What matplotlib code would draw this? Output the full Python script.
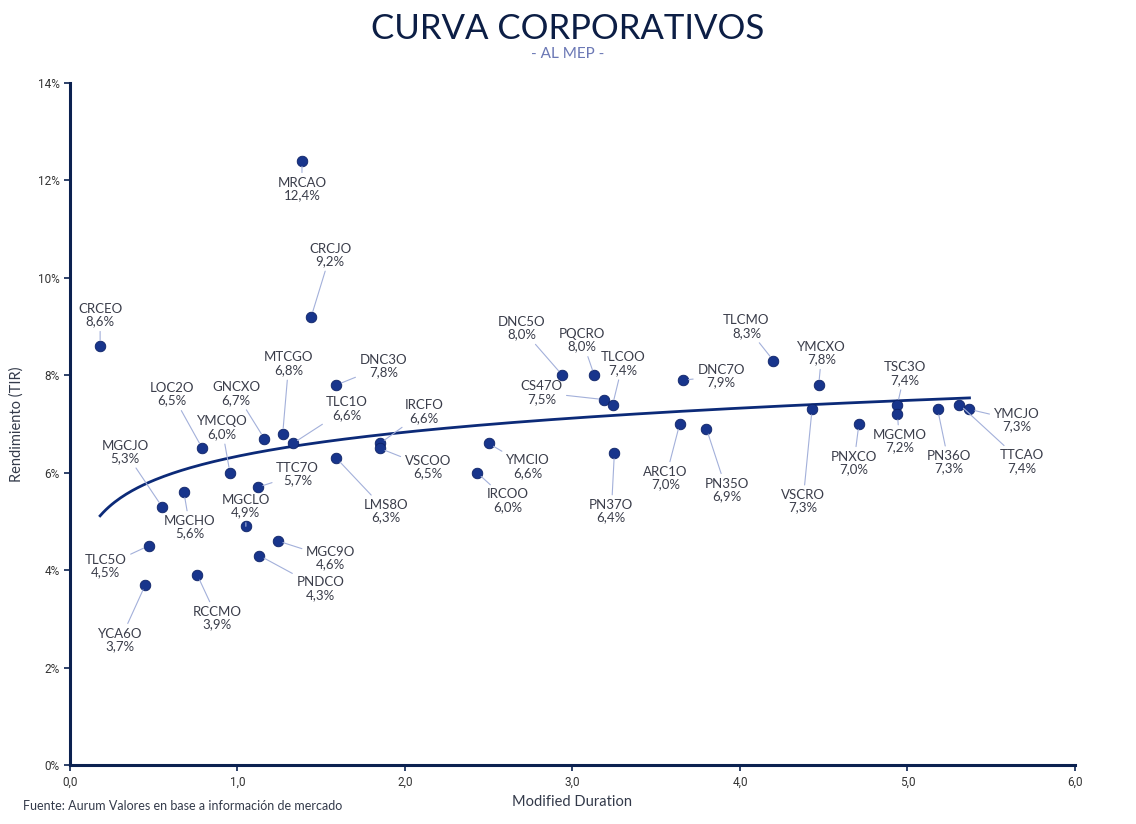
import numpy as np
import matplotlib
matplotlib.use("Agg")
import matplotlib.pyplot as plt
from matplotlib.ticker import FuncFormatter, MultipleLocator

# ---------------- data ----------------
tickers = ["CRCEO", "MRCAO", "CRCJO", "MTCGO", "GNCXO", "TLC1O", "DNC3O", "LOC2O",
           "YMCQO", "MGCJO", "MGCHO", "TTC7O", "MGCLO", "MGC9O", "PNDCO", "TLC5O",
           "YCA6O", "RCCMO", "LMS8O", "IRCFO", "VSCOO", "YMCIO", "IRCOO", "DNC5O",
           "PQCRO", "CS47O", "TLCOO", "PN37O", "DNC7O", "ARC1O", "PN35O", "TLCMO",
           "YMCXO", "VSCRO", "PNXCO", "TSC3O", "MGCMO", "PN36O", "YMCJO", "TTCAO"]
duration = [0.18, 1.385, 1.44, 1.27, 1.16, 1.33, 1.59, 0.79,
            0.955, 0.55, 0.68, 1.12, 1.05, 1.24, 1.13, 0.47,
            0.45, 0.76, 1.59, 1.85, 1.85, 2.50, 2.43, 2.94,
            3.13, 3.19, 3.24, 3.25, 3.66, 3.64, 3.80, 4.20,
            4.47, 4.43, 4.71, 4.94, 4.94, 5.18, 5.37, 5.31]
tir = [8.6, 12.4, 9.2, 6.8, 6.7, 6.6, 7.8, 6.5,
       6.0, 5.3, 5.6, 5.7, 4.9, 4.6, 4.3, 4.5,
       3.7, 3.9, 6.3, 6.6, 6.5, 6.6, 6.0, 8.0,
       8.0, 7.5, 7.4, 6.4, 7.9, 7.0, 6.9, 8.3,
       7.8, 7.3, 7.0, 7.4, 7.2, 7.3, 7.3, 7.4]
# label offsets (pixels, x right / y down)
label_dx = [0, 0, 19, 6, -28, 54, 47, -30,
            -8, -37, 6, 40, 0, 53, 61, -43,
            -25, 20, 50, 44, 48, 39, 31, -41,
            -12, -63, 10, -3, 38, -14, 20, -27,
            3, -9, -5, 7, 2, 11, 47, 62]
label_dy = [-31, 28, -62, -70, -45, -35, -19, -54,
            -45, -55, 35, -13, -20, 17, 33, 20,
            55, 43, 53, -32, 19, 23, 28, -47,
            -35, -7, -41, 58, -4, 54, 61, -34,
            -32, 92, 39, -31, 27, 53, 11, 57]

# --------------- style ----------------
NAVY = "#0b2150"
DOT = "#18358c"
LEADER = "#a3b0da"
TXT = "#3a3d4a"

fig = plt.figure(figsize=(11.36, 8.24), dpi=100)
ax = fig.add_axes([0.0616, 0.0716, 0.8847, 0.8277])

x = np.array(duration)
y = np.array(tir)

# logarithmic trend line
b, a = np.polyfit(np.log(x), y, 1)
xs = np.linspace(x.min(), x.max(), 300)
ax.plot(xs, a + b * np.log(xs), color="#0c2a78", lw=2.0, zorder=2)

ax.scatter(x, y, s=58, color=DOT, edgecolor="#0d2266", linewidth=0.6, zorder=4)

for t, xi, yi, dx, dy in zip(tickers, duration, tir, label_dx, label_dy):
    lab = f"{t}\n{yi:.1f}%".replace(".", ",")
    ax.annotate(lab, xy=(xi, yi), xytext=(dx * 0.72, -dy * 0.72),
                textcoords="offset points", ha="center", va="center",
                fontsize=9.5, color=TXT, family="Lato", linespacing=1.05,
                zorder=6,
                arrowprops=dict(arrowstyle="-", color=LEADER, lw=0.8,
                                shrinkA=1, shrinkB=4))

ax.set_xlim(0, 6)
ax.set_ylim(0, 14)
ax.xaxis.set_major_locator(MultipleLocator(1))
ax.yaxis.set_major_locator(MultipleLocator(2))
ax.xaxis.set_major_formatter(FuncFormatter(lambda v, p: f"{v:.1f}".replace(".", ",")))
ax.yaxis.set_major_formatter(FuncFormatter(lambda v, p: f"{v:.0f}%"))
for s in ["top", "right"]:
    ax.spines[s].set_visible(False)
for s in ["left", "bottom"]:
    ax.spines[s].set_color(NAVY)
    ax.spines[s].set_linewidth(2.2)
ax.tick_params(axis="both", colors=NAVY, length=4, width=1.2, labelsize=8.5,
               labelcolor="#333333")
for lbl in ax.get_xticklabels() + ax.get_yticklabels():
    lbl.set_family("Roboto")

ax.set_xlabel("Modified Duration", fontsize=10.5, color="#333a4a", family="Lato", labelpad=5)
ax.set_ylabel("Rendimiento (TIR)", fontsize=10.5, color="#333a4a", family="Lato", labelpad=10)

fig.text(0.5, 0.965, "CURVA CORPORATIVOS", ha="center", va="center",
         fontsize=25, color="#0c1e45", family="Lato")
fig.text(0.5, 0.935, "- AL MEP -", ha="center", va="center",
         fontsize=11, color="#6b78b5", family="Lato")
fig.text(0.02, 0.022, "Fuente: Aurum Valores en base a información de mercado",
         ha="left", va="center", fontsize=9, color="#333a4a", family="Lato")

fig.savefig("out.png", dpi=100, facecolor="white")
